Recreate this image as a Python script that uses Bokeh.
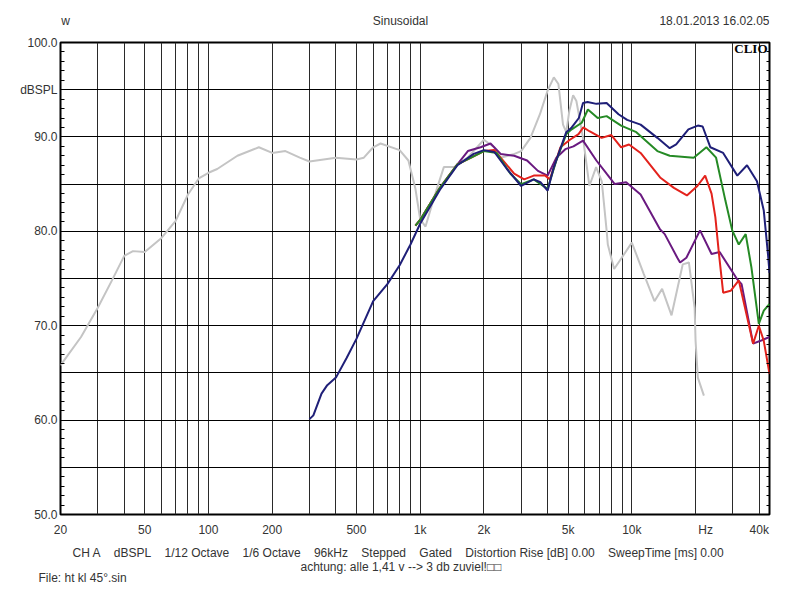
from bokeh.plotting import figure
from bokeh.models import Range1d, FixedTicker, LinearAxis, Label, Title
from bokeh.layouts import column
from bokeh.core.properties import value
from bokeh.embed import file_html
from bokeh.resources import INLINE

# ---------------- data ----------------
gray_freq = [20, 25, 30, 35, 40, 44, 50, 60, 70, 80, 90, 100, 110, 137, 173, 200, 231, 270, 300,
             400, 500, 542, 600, 650, 800, 880, 950, 1000, 1060, 1140, 1203, 1294, 1446, 1676,
             2000, 2240, 2400, 2790, 3000, 3320, 3680, 4000, 4280, 4500, 4730, 4900, 5070, 5280,
             5470, 5880, 6300, 6780, 7210, 7600, 7700, 8250, 10000, 11380, 12790, 13900, 15400,
             17400, 18600, 19800, 20000, 20500, 21900]
gray_db = [65.8, 68.8, 71.9, 74.8, 77.4, 77.9, 77.8, 79.3, 81.1, 83.9, 85.6, 86.2, 86.6, 88.0, 88.9,
           88.3, 88.5, 87.8, 87.4, 87.8, 87.6, 87.8, 88.9, 89.3, 88.6, 87.5, 84.5, 81.3, 80.5, 82.9,
           84.6, 86.8, 86.8, 87.8, 89.7, 88.9, 87.8, 88.2, 88.5, 89.9, 92.4, 94.9, 96.3, 95.6, 91.3,
           90.5, 92.8, 94.4, 93.8, 89.9, 84.8, 86.8, 85.3, 80.1, 78.6, 76.0, 78.8, 75.5, 72.6, 73.9,
           71.1, 76.5, 76.7, 71.9, 68.4, 64.5, 62.6]

navy_freq = [300, 313, 342, 364, 400, 450, 500, 600, 700, 800, 900, 1000, 1240, 1500, 1790, 2000,
             2240, 2570, 3000, 3440, 3700, 4000, 4280, 4900, 5200, 5620, 5880, 6180, 6800, 7600,
             8650, 9500, 11000, 13200, 15100, 16200, 18500, 20500, 21600, 23500, 27000, 31500,
             35000, 39000, 42000, 44000, 44700]
navy_db = [60.1, 60.5, 62.8, 63.7, 64.5, 66.6, 68.6, 72.6, 74.4, 76.4, 78.6, 80.8, 84.4, 87.0, 88.2,
           88.6, 88.4, 86.6, 84.8, 85.5, 85.2, 84.3, 86.8, 90.5, 91.0, 92.0, 93.6, 93.7, 93.5, 93.6,
           92.4, 91.8, 91.3, 89.9, 88.8, 89.2, 90.8, 91.2, 91.1, 88.9, 88.3, 85.9, 87.0, 85.3, 82.2,
           77.5, 75.6]

green_freq = [950, 1000, 1240, 1500, 1740, 2000, 2300, 2670, 3000, 3440, 4000, 4400, 4900, 5200,
              5800, 6200, 6900, 7600, 8900, 10500, 13200, 15100, 19600, 22500, 25000, 27700,
              29800, 32000, 34500, 36700, 39800, 42000, 44700]
green_db = [80.6, 81.2, 84.6, 87.1, 87.8, 88.5, 88.3, 86.1, 85.0, 85.5, 84.5, 87.5, 90.3, 90.8,
            91.5, 92.9, 92.0, 92.2, 91.2, 90.5, 88.5, 88.0, 87.8, 88.9, 87.8, 83.2, 80.1, 78.6,
            79.7, 76.2, 70.2, 71.6, 72.3]

red_freq = [950, 1000, 1240, 1500, 1740, 2000, 2240, 2780, 3100, 3440, 3900, 4100, 4600, 5100,
            5600, 5900, 6300, 7200, 8000, 8900, 9700, 11000, 13600, 15800, 18200, 20400, 22200,
            23800, 24800, 25800, 27000, 29300, 32000, 37400, 39800, 42000, 44700]
red_db = [80.6, 81.2, 84.6, 87.1, 87.8, 88.5, 88.6, 86.1, 85.5, 85.9, 85.9, 85.5, 88.9, 89.7,
          90.3, 91.0, 90.6, 89.9, 90.2, 88.9, 89.2, 88.3, 85.7, 84.6, 83.8, 84.8, 85.9, 84.0,
          81.5, 77.6, 73.5, 73.7, 74.8, 68.1, 70.0, 68.4, 64.9]

purple_freq = [950, 1000, 1240, 1500, 1680, 1930, 2150, 2400, 2780, 3200, 3600, 4000, 4400, 4850,
               5300, 5880, 6800, 7600, 8300, 9400, 11000, 13600, 14300, 16400, 16900, 18100,
               21000, 23800, 26000, 31500, 33000, 37400, 40500, 44700]
purple_db = [80.6, 81.2, 84.6, 87.1, 88.5, 88.9, 89.3, 88.2, 88.0, 87.5, 86.4, 85.9, 87.8, 88.7,
             89.0, 89.6, 87.5, 86.1, 85.0, 85.2, 83.9, 80.2, 79.7, 77.2, 76.7, 77.2, 80.1, 77.6,
             77.8, 74.9, 74.4, 68.1, 68.4, 68.8]

x_tick_freqs = [20, 50, 100, 200, 500, 1000, 2000, 5000, 10000, 22300, 40000]
x_tick_labels = ["20", "50", "100", "200", "500", "1k", "2k", "5k", "10k", "Hz", "40k"]
x_grid_freqs = [30, 40, 50, 60, 70, 80, 90,
                100, 200, 300, 400, 500, 600, 700, 800, 900,
                1000, 2000, 3000, 4000, 5000, 6000, 7000, 8000, 9000,
                10000, 20000, 30000, 40000]
y_tick_values = [50, 60, 70, 80, 90, 95, 100]
y_tick_labels = ["50.0", "60.0", "70.0", "80.0", "90.0", "dBSPL", "100.0"]
y_grid_values = [55, 60, 65, 70, 75, 80, 85, 90, 95]
y_minor_values = list(range(50, 101))

header_texts = ["w", "Sinusoidal", "18.01.2013 16.02.05"]
footer_line1 = "\u00a0\u00a0\u00a0\u00a0".join(["CH A", "dBSPL", "1/12 Octave", "1/6 Octave", "96kHz",
                                               "Stepped", "Gated", "Distortion Rise [dB] 0.00",
                                               "SweepTime [ms] 0.00"])
footer_line2 = "achtung: alle 1,41 v --> 3 db zuviel!\u25a1\u25a1"
footer_line3 = "File: ht kl 45\u00b0.sin"

FONT = "Liberation Sans"
TXT = "#333333"
W = 800

# ---------------- header strip (its frame is aligned with the plot frame: 60..769) ----------------
head = figure(width=W, height=34, x_range=Range1d(60, 769), y_range=Range1d(34, 0),
              output_backend="svg", toolbar_location=None,
              x_axis_location=None, y_axis_location=None,
              min_border=0, min_border_left=0, min_border_right=0,
              min_border_top=0, min_border_bottom=0)
head.grid.visible = False
head.outline_line_color = None
head.background_fill_color = "white"
head.border_fill_color = "white"
head.text(x=[65, 400, 769], y=[20, 20, 20], text=header_texts,
          text_align=["center", "center", "right"], text_baseline="middle",
          text_font=value(FONT), text_font_size="12px", text_color=TXT)

# ---------------- main plot ----------------
p = figure(width=W, height=566, x_axis_type="log",
           x_range=Range1d(20, 44700), y_range=Range1d(50, 100),
           output_backend="svg", toolbar_location=None,
           min_border_left=60, min_border_right=31, min_border_top=8, min_border_bottom=86)
p.background_fill_color = "white"
p.border_fill_color = "white"
p.outline_line_color = "black"
p.outline_line_width = 2

p.xgrid.ticker = FixedTicker(ticks=x_grid_freqs)
p.xgrid.grid_line_color = "#2a2a2a"
p.xgrid.grid_line_width = 1
p.ygrid.ticker = FixedTicker(ticks=y_grid_values)
p.ygrid.grid_line_color = "black"
p.ygrid.grid_line_width = 1

xa = p.xaxis[0]
xa.ticker = FixedTicker(ticks=x_tick_freqs)
xa.major_label_overrides = {f: l for f, l in zip(x_tick_freqs, x_tick_labels)}
xa.major_tick_in = 0
xa.major_tick_out = 0
xa.minor_tick_in = 0
xa.minor_tick_out = 0
xa.axis_line_color = None
xa.major_label_standoff = 8
xa.major_label_text_font = FONT
xa.major_label_text_font_size = "12px"
xa.major_label_text_color = TXT

ya = p.yaxis[0]
ya.ticker = FixedTicker(ticks=y_tick_values, minor_ticks=y_minor_values)
ya.major_label_overrides = {v: l for v, l in zip(y_tick_values, y_tick_labels)}
ya.major_tick_in = 0
ya.major_tick_out = 0
ya.minor_tick_in = 4
ya.minor_tick_out = 0
ya.minor_tick_line_color = "black"
ya.axis_line_color = None
ya.major_label_standoff = 3
ya.major_label_text_font = FONT
ya.major_label_text_font_size = "12px"
ya.major_label_text_color = TXT

ra = LinearAxis(ticker=FixedTicker(ticks=[], minor_ticks=y_minor_values))
ra.major_label_text_font_size = "0px"
ra.major_tick_in = 0
ra.major_tick_out = 0
ra.minor_tick_in = 3
ra.minor_tick_out = 0
ra.minor_tick_line_color = "black"
ra.axis_line_color = None
p.add_layout(ra, "right")

p.line(gray_freq, gray_db, line_color="#c4c4c4", line_width=2)
p.line(purple_freq, purple_db, line_color="#6a1a80", line_width=2)
p.line(red_freq, red_db, line_color="#e3221c", line_width=2)
p.line(green_freq, green_db, line_color="#258a25", line_width=2)
p.line(navy_freq, navy_db, line_color="#1f1f78", line_width=2)

p.add_layout(Label(x=707, y=466, x_units="screen", y_units="screen", text="CLIO",
                   text_align="right", text_baseline="middle", text_font="Liberation Serif",
                   text_font_size="13px", text_font_style="bold", text_color="black"))

# ---------------- footer lines (titles below the x axis) ----------------
for txt, off, stand in [(footer_line1, 12, 8),
                        (footer_line2, 240, -11),
                        (footer_line3, -22, 1)]:
    t = Title(text=txt, align="left", offset=off, standoff=stand,
              text_font=FONT, text_font_size="12px", text_font_style="normal",
              text_color=TXT)
    p.add_layout(t, "below")

layout = column(head, p, spacing=0)
open("out.html", "w").write(file_html(layout, INLINE))
